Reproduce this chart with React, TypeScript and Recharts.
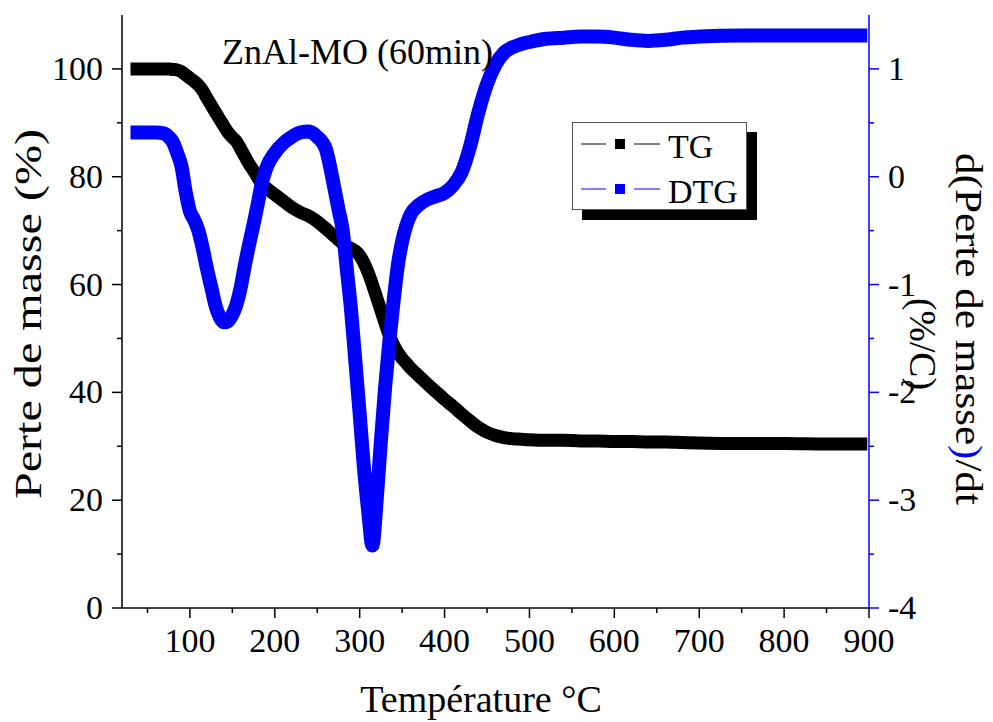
import { LineChart, Line, XAxis, YAxis, Legend } from "recharts";

const SERIF = '"Liberation Serif", "Times New Roman", serif';
const BLUE = "#0000ff";

// temperature (°C)
const temperature = [
  30, 40, 50, 60, 70, 75, 80, 85, 90, 95, 100, 105, 110, 115, 120, 125, 130,
  135, 140, 145, 150, 155, 160, 165, 170, 175, 180, 185, 190, 200, 210, 220,
  230, 240, 250, 260, 265, 270, 275, 280, 285, 290, 295, 300, 305, 310, 315,
  320, 325, 330, 335, 340, 345, 350, 355, 360, 370, 380, 390, 400, 410, 420,
  430, 440, 450, 460, 470, 480, 490, 500, 520, 540, 560, 580, 600, 620, 640,
  660, 680, 700, 750, 800, 850, 898,
];

// perte de masse (%)
const tg = [
  100, 100, 100, 100, 100, 100, 99.9, 99.8, 99.5, 98.9, 98.3, 97.7, 97.0, 96.0,
  94.6, 93.3, 92.0, 90.7, 89.4, 88.2, 87.3, 86.5, 85.1, 83.7, 82.3, 81.1, 79.8,
  78.6, 77.9, 76.7, 75.5, 74.3, 73.4, 72.7, 71.7, 70.4, 69.7, 69.0, 68.3, 67.6,
  67.1, 66.7, 66.2, 65.4, 64.0, 62.2, 60.0, 57.6, 55.2, 52.8, 50.5, 48.8, 47.4,
  46.3, 45.4, 44.5, 43.0, 41.5, 40.1, 38.7, 37.4, 36.0, 34.7, 33.5, 32.6, 32.0,
  31.6, 31.4, 31.3, 31.2, 31.1, 31.1, 31.0, 31.0, 30.9, 30.9, 30.8, 30.8, 30.7,
  30.6, 30.5, 30.5, 30.4, 30.4,
];

// d(perte de masse)/dt (%/C)
const dtg = [
  0.41, 0.41, 0.41, 0.41, 0.4, 0.37, 0.32, 0.22, 0.1, -0.14, -0.32, -0.4, -0.5,
  -0.66, -0.85, -1.02, -1.19, -1.3, -1.35, -1.34, -1.28, -1.18, -1.02, -0.81,
  -0.62, -0.44, -0.25, -0.05, 0.08, 0.22, 0.31, 0.37, 0.41, 0.42, 0.37, 0.26,
  0.1, -0.1, -0.3, -0.5, -0.87, -1.25, -1.72, -2.2, -2.7, -3.1, -3.42, -3.0,
  -2.45, -1.95, -1.52, -1.15, -0.82, -0.6, -0.45, -0.35, -0.26, -0.21, -0.18,
  -0.15, -0.08, 0.04, 0.28, 0.6, 0.86, 1.04, 1.15, 1.2, 1.23, 1.25, 1.28, 1.29,
  1.3, 1.3, 1.29, 1.27, 1.26, 1.27, 1.29, 1.3, 1.31, 1.31, 1.31, 1.31,
];

const xTicks = [50, 100, 150, 200, 250, 300, 350, 400, 450, 500, 550, 600, 650, 700, 750, 800, 850, 900];
const leftTicks = [0, 10, 20, 30, 40, 50, 60, 70, 80, 90, 100];
const rightTicks = [-4, -3.5, -3, -2.5, -2, -1.5, -1, -0.5, 0, 0.5, 1];
const legendOrder = ["TG", "DTG"];

const data = temperature.map((t, i) => ({ t, tg: tg[i], dtg: dtg[i] }));

const XTick = ({ x, y, payload }: any) => {
  const major = payload.value % 100 === 0;
  return (
    <g>
      <line x1={x} x2={x} y1={y} y2={y + (major ? 10 : 5)} stroke="#000" strokeWidth={1.5} />
      {major && (
        <text x={x} y={y + 44} textAnchor="middle" fontSize={34} fontFamily={SERIF} fill="#000">
          {payload.value}
        </text>
      )}
    </g>
  );
};

const TopTick = ({ x, y }: any) => (
  <line x1={x} x2={x} y1={y} y2={y - 3} stroke="#000" strokeWidth={1} />
);

const LeftTick = ({ x, y, payload }: any) => {
  const major = payload.value % 20 === 0;
  return (
    <g>
      <line x1={x} x2={x - (major ? 10 : 5)} y1={y} y2={y} stroke="#000" strokeWidth={1.5} />
      {major && (
        <text x={x - 19} y={y + 11} textAnchor="end" fontSize={34} fontFamily={SERIF} fill="#000">
          {payload.value}
        </text>
      )}
    </g>
  );
};

const RightTick = ({ x, y, payload }: any) => {
  const major = Number.isInteger(payload.value);
  return (
    <g>
      <line x1={x} x2={x + (major ? 10 : 5)} y1={y} y2={y} stroke={BLUE} strokeWidth={1.5} />
      {major && (
        <text x={x + 19} y={y + 11} textAnchor="start" fontSize={34} fontFamily={SERIF} fill="#000">
          {payload.value}
        </text>
      )}
    </g>
  );
};

const renderLegend = (props: any) => {
  const items = [...props.payload].sort(
    (a: any, b: any) => legendOrder.indexOf(a.value) - legendOrder.indexOf(b.value)
  );
  return (
    <div
      style={{
        position: "relative",
        width: 175,
        height: 88,
        boxSizing: "border-box",
        border: "1px solid #555",
        background: "#fff",
        boxShadow: "10px 10px 0 #000",
        fontFamily: SERIF,
        fontSize: 34,
      }}
    >
      {items.map((entry: any, i: number) => (
        <div
          key={entry.value}
          style={{ position: "absolute", left: 0, top: 4 + i * 45, height: 34, display: "flex", alignItems: "center" }}
        >
          <svg width={95} height={20} style={{ display: "block" }}>
            <line x1={8} x2={33} y1={10} y2={10} stroke={entry.color} strokeWidth={1} />
            <rect x={42} y={5} width={10} height={10} fill={entry.color} />
            <line x1={61} x2={87} y1={10} y2={10} stroke={entry.color} strokeWidth={1} />
          </svg>
          <span style={{ lineHeight: "34px", paddingTop: 5, color: "#000" }}>{entry.value}</span>
        </div>
      ))}
    </div>
  );
};

export default function App() {
  return (
    <div style={{ position: "absolute", left: 0, top: 0, width: 993, height: 722, background: "#fff" }}>
      <LineChart width={993} height={722} data={data} margin={{ top: 15, right: 0, bottom: 0, left: 0 }}>
        <XAxis
          xAxisId="x"
          dataKey="t"
          type="number"
          domain={[20, 900]}
          ticks={xTicks}
          interval={0}
          height={114}
          stroke="#000"
          strokeWidth={1.5}
          tickLine={false}
          tickSize={0}
          tickMargin={0}
          tick={<XTick />}
          label={() => (
            <text x={481} y={712} textAnchor="middle" fontSize={38} fontFamily={SERIF} fill="#000">
              Température °C
            </text>
          )}
        />
        <XAxis
          xAxisId="top"
          orientation="top"
          dataKey="t"
          type="number"
          domain={[20, 900]}
          ticks={xTicks}
          interval={0}
          height={0}
          stroke="#000"
          strokeWidth={1.5}
          tickLine={false}
          tickSize={0}
          tickMargin={0}
          tick={<TopTick />}
        />
        <YAxis
          yAxisId="left"
          domain={[0, 110]}
          ticks={leftTicks}
          interval={0}
          width={122}
          stroke="#000"
          strokeWidth={1.5}
          tickLine={false}
          tickSize={0}
          tickMargin={0}
          tick={<LeftTick />}
          label={() => (
            <text
              transform="translate(41, 314) rotate(-90)"
              textAnchor="middle"
              fontSize={38}
              fontFamily={SERIF}
              fill="#000"
              textLength={370}
              lengthAdjust="spacingAndGlyphs"
            >
              Perte de masse (%)
            </text>
          )}
        />
        <YAxis
          yAxisId="right"
          orientation="right"
          domain={[-4, 1.5]}
          ticks={rightTicks}
          interval={0}
          width={124}
          stroke={BLUE}
          strokeWidth={1.5}
          tickLine={false}
          tickSize={0}
          tickMargin={0}
          tick={<RightTick />}
          label={() => (
            <g fontSize={38} fontFamily={SERIF} fill="#000">
              <text
                transform="translate(956, 329) rotate(90)"
                textAnchor="middle"
                textLength={352}
                lengthAdjust="spacingAndGlyphs"
              >
                d(Perte de masse<tspan fill={BLUE}>)</tspan>/dt
              </text>
              <text
                transform="translate(910, 344) rotate(90)"
                textAnchor="middle"
                textLength={92}
                lengthAdjust="spacingAndGlyphs"
              >
                (%/C)
              </text>
            </g>
          )}
        />
        <Legend
          layout="vertical"
          align="center"
          verticalAlign="middle"
          wrapperStyle={{ left: 572, top: 122, width: 175, height: 88 }}
          content={renderLegend}
        />
        <Line
          xAxisId="x"
          yAxisId="left"
          name="TG"
          type="monotone"
          dataKey="tg"
          stroke="#000"
          strokeWidth={13}
          dot={false}
          isAnimationActive={false}
        />
        <Line
          xAxisId="x"
          yAxisId="right"
          name="DTG"
          type="monotone"
          dataKey="dtg"
          stroke={BLUE}
          strokeWidth={14}
          dot={false}
          isAnimationActive={false}
        />
      </LineChart>
      <div
        style={{
          position: "absolute",
          left: 222,
          top: 30,
          fontFamily: SERIF,
          fontSize: 36,
          lineHeight: "44px",
          color: "#000",
          whiteSpace: "nowrap",
        }}
      >
        ZnAl-MO (60min)
      </div>
    </div>
  );
}
